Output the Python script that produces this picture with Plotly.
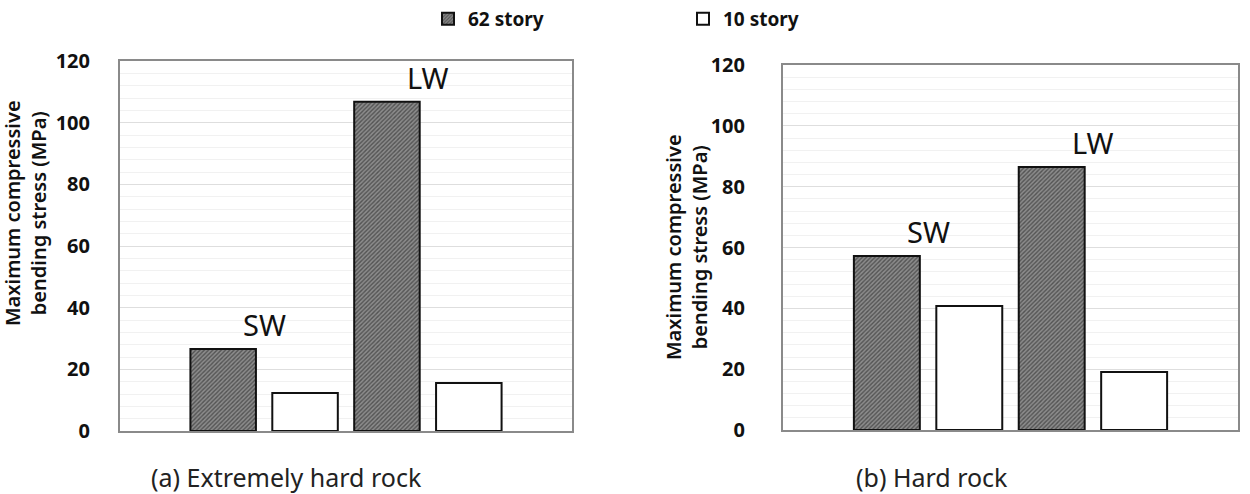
import plotly.graph_objects as go

groups = ["SW", "LW"]
series_names = ["62 story", "10 story"]
# (a) Extremely hard rock
a_62 = [26.6, 106.8]
a_10 = [12.3, 15.6]
# (b) Hard rock
b_62 = [57.2, 86.5]
b_10 = [40.8, 19.1]
y_ticks = [0, 20, 40, 60, 80, 100, 120]
captions = ["(a) Extremely hard rock", "(b) Hard rock"]
y_title = "Maximum compressive<br>bending stress (MPa)"

FONT = "Noto Sans"
fig = go.Figure()

hatch = dict(shape="/", fgcolor="#1a1a1a", bgcolor="#8c8c8c", size=3, solidity=0.45)

for i, (v62, v10) in enumerate([(a_62, a_10), (b_62, b_10)]):
    xa = "x" if i == 0 else "x2"
    ya = "y" if i == 0 else "y2"
    fig.add_trace(go.Bar(x=groups, y=v62, name=series_names[0], xaxis=xa, yaxis=ya,
                         marker=dict(color="#8c8c8c", pattern=hatch,
                                     line=dict(color="#111", width=2)),
                         showlegend=(i == 0), legendgroup="62"))
    fig.add_trace(go.Bar(x=groups, y=v10, name=series_names[1], xaxis=xa, yaxis=ya,
                         marker=dict(color="white", line=dict(color="#111", width=2)),
                         showlegend=(i == 0), legendgroup="10"))

# SW / LW labels above the 62-story bars
for i, v62 in enumerate([a_62, b_62]):
    xr = "x" if i == 0 else "x2"
    yr = "y" if i == 0 else "y2"
    for g, v in zip(groups, v62):
        fig.add_annotation(x=g, y=v, xref=xr, yref=yr, text=g, showarrow=False,
                           yanchor="bottom", yshift=3,
                           font=dict(family=FONT, size=29, color="#111"))

axis_common = dict(showline=True, linecolor="#8a8a8a", linewidth=2, mirror=True,
                   zeroline=False)
tick_font = dict(family=FONT, size=20, color="#111", weight="bold")
fig.update_layout(
    width=1250, height=494,
    margin=dict(l=0, r=0, t=0, b=0, autoexpand=False),
    paper_bgcolor="white", plot_bgcolor="white",
    barmode="group", bargap=0.0, bargroupgap=0.2,
    font=dict(family=FONT, color="#111"),
    xaxis=dict(domain=[120/1250, 572/1250], range=[-0.88, 1.88], showticklabels=False,
               showgrid=False, ticks="", anchor="y", **axis_common),
    yaxis=dict(domain=[1-431/494, 1-61/494], range=[0, 120], tickvals=y_ticks,
               showgrid=True, gridcolor="#dedede", gridwidth=1,
               minor=dict(dtick=4, showgrid=True, gridcolor="#f1f1f1", gridwidth=1),
               tickfont=tick_font, ticklabelstandoff=24, anchor="x", **axis_common),
    xaxis2=dict(domain=[783/1250, 1238/1250], range=[-0.88, 1.88], showticklabels=False,
                showgrid=False, ticks="", anchor="y2", **axis_common),
    yaxis2=dict(domain=[1-430/494, 1-65/494], range=[0, 120], tickvals=y_ticks,
                showgrid=True, gridcolor="#dedede", gridwidth=1,
                minor=dict(dtick=4, showgrid=True, gridcolor="#f1f1f1", gridwidth=1),
                tickfont=tick_font, ticklabelstandoff=32, anchor="x2", **axis_common),
    legend=dict(orientation="h", xref="container", yref="container",
                x=428/1250, xanchor="left", y=1.0, yanchor="top",
                entrywidth=210, font=dict(family=FONT, size=19, color="#111", weight="bold"),
                bgcolor="rgba(0,0,0,0)", itemsizing="constant"),
)

# y-axis titles
title_font = dict(family=FONT, size=20, color="#111", weight=600)
fig.add_annotation(x=25/1250, y=1-213/494, xref="paper", yref="paper", text=y_title,
                   textangle=-90, showarrow=False, xanchor="center", yanchor="middle",
                   font=title_font)
fig.add_annotation(x=686/1250, y=1-247/494, xref="paper", yref="paper", text=y_title,
                   textangle=-90, showarrow=False, xanchor="center", yanchor="middle",
                   font=title_font)

# captions
cap_font = dict(family=FONT, size=25, color="#222")
fig.add_annotation(x=286/1250, y=1-477/494, xref="paper", yref="paper", text=captions[0],
                   showarrow=False, xanchor="center", yanchor="middle", font=cap_font)
fig.add_annotation(x=932/1250, y=1-477/494, xref="paper", yref="paper", text=captions[1],
                   showarrow=False, xanchor="center", yanchor="middle", font=cap_font)

fig.write_html("out.html")
